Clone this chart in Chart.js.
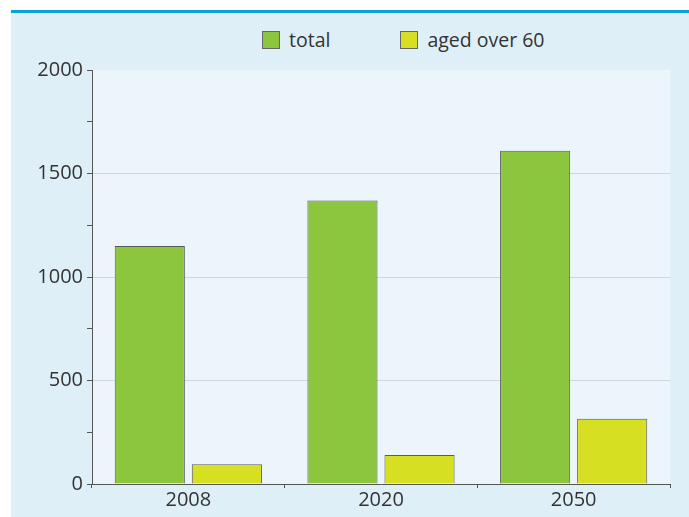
<!DOCTYPE html>
<html>
<head>
<meta charset="utf-8">
<script src="https://cdn.jsdelivr.net/npm/chart.js@4"></script>
<style>
  body { margin: 0; background: #fff; font-family: "Open Sans", sans-serif; }
  #frame { position: absolute; left: 11px; top: 10px; width: 678px; height: 504px;
           border-top: 3px solid #0fa0dc; background: #dfeff8; }
  #wrap { position: absolute; left: 0; top: 0; width: 678px; height: 504px; }
  #legend { position: absolute; top: 13px; left: 251px; display: flex; font-size: 19.5px; color: #333; }
  .item { display: flex; align-items: center; margin-right: 70px; }
  .box { width: 16px; height: 16px; border: 1px solid #666; margin-right: 9px; }
</style>
</head>
<body>
<div id="frame">
  <div id="legend"></div>
  <div id="wrap"><canvas id="myChart"></canvas></div>
</div>
<script>
const years = ['2008', '2020', '2050'];
const total = [1150, 1370, 1610];
const agedOver60 = [95, 140, 315];
const seriesNames = ['total', 'aged over 60'];
const seriesColors = ['#8cc63f', '#d6df22'];

// html legend
let legendDiv = document.getElementById('legend');
for (let i = 0; i < seriesNames.length; i++) {
	let item = document.createElement('div');
	item.className = 'item';
	item.innerHTML = '<span class="box" style="background:' + seriesColors[i] + '"></span>' + seriesNames[i];
	legendDiv.appendChild(item);
}

const plotBg = {
	id: 'plotBg',
	beforeDraw(chart) {
		const a = chart.chartArea;
		const ctx = chart.ctx;
		ctx.save();
		ctx.fillStyle = '#ecf5fc';
		ctx.fillRect(a.left, a.top, a.right - a.left, a.bottom - a.top);
		ctx.restore();
	}
};

const data = {
	labels: years,
	datasets: [{
		label: seriesNames[0],
		data: total,
		backgroundColor: seriesColors[0],
		borderColor: '#5a5a5a',
		borderWidth: 1
	}, {
		label: seriesNames[1],
		data: agedOver60,
		backgroundColor: seriesColors[1],
		borderColor: '#5a5a5a',
		borderWidth: 1
	}]
};

const config = {
	type: 'bar',
	data: data,
	plugins: [plotBg],
	options: {
		responsive: false,
		animation: false,
		devicePixelRatio: 1,
		categoryPercentage: 0.8,
		barPercentage: 0.91,
		layout: { padding: { top: 57, right: 19, left: 0, bottom: 0 } },
		plugins: { legend: { display: false }, tooltip: { enabled: false } },
		scales: {
			x: {
				afterFit: function(scale) { scale.height = 33; },
				grid: { drawOnChartArea: false, drawTicks: true, tickLength: 4, tickColor: '#555' },
				border: { color: '#555', width: 1 },
				ticks: { color: '#333', font: { family: 'Open Sans', size: 20 }, padding: 0 }
			},
			y: {
				min: 0,
				max: 2000,
				afterFit: function(scale) { scale.width = 81; },
				grid: {
					color: function(ctx) {
						let v = ctx.tick ? ctx.tick.value : 0;
						return (v % 500 === 0 && v > 0 && v < 2000) ? '#d2d6d9' : 'rgba(0,0,0,0)';
					},
					tickColor: '#555',
					tickLength: 5
				},
				border: { color: '#555', width: 1 },
				ticks: {
					stepSize: 250,
					autoSkip: false,
					color: '#333',
					font: { family: 'Open Sans', size: 20 },
					padding: 4,
					callback: function(v) { return v % 500 === 0 ? v : ''; }
				}
			}
		}
	}
};

let canvas = document.getElementById('myChart');
canvas.width = 678;
canvas.height = 504;
var myChart = new Chart(canvas, config);
</script>
</body>
</html>
